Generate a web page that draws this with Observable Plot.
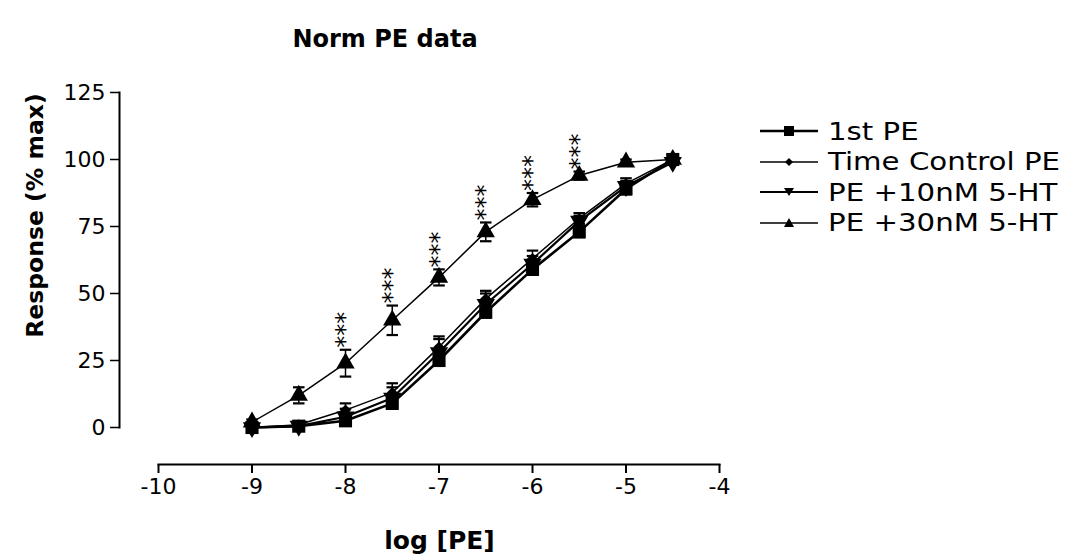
<!DOCTYPE html>
<html><head><meta charset="utf-8">
<script src="https://cdn.jsdelivr.net/npm/d3@7"></script>
<script src="https://cdn.jsdelivr.net/npm/@observablehq/plot@0.6"></script>
<style>
body{margin:0;background:#fff;font-family:"DejaVu Sans",sans-serif;color:#000;}
#wrap{position:relative;width:1067px;height:555px;overflow:hidden;}
#chart{position:absolute;left:0;top:0;}
#title{position:absolute;left:0;top:25px;width:770px;text-align:center;font-weight:bold;font-size:24px;}
#legend{position:absolute;left:760px;top:116px;}
.row{height:30.5px;display:flex;align-items:center;white-space:nowrap;}
.row svg{flex:none;}
.row span{font-size:25px;margin-left:10px;display:inline-block;transform:scaleX(1.17);transform-origin:left center;}
g[aria-label="y-axis tick label"], g[aria-label="x-axis tick label"]{font-size:22px;}
</style>
</head><body>
<div id="wrap">
  <div id="chart"></div>
  <div id="title">Norm PE data</div>
  <div id="legend"></div>
</div>
<script>
// ---- data ----
const logPE = [-9, -8.5, -8, -7.5, -7, -6.5, -6, -5.5, -5, -4.5];
const seriesNames = ["1st PE", "Time Control PE", "PE +10nM 5-HT", "PE +30nM 5-HT"];
const firstPE      = [0, 0.5, 2.5, 9, 25, 43, 59, 73, 89, 100];
const firstPEErr   = [1, 1, 1, 1.5, 1.5, 2, 2, 2, 2, 0.5];
const timeCtrl     = [0, 1, 6.5, 13, 30, 48, 63, 78, 91, 100];
const timeCtrlErr  = [0.5, 1, 2.5, 3.5, 4, 3, 3, 2, 2, 0.5];
const pe10         = [0, 0.5, 4, 11, 28, 46, 61, 77, 90, 99];
const pe10Err      = [0.5, 1, 3, 4, 5, 4, 3, 2, 2, 1];
const pe30         = [2, 12, 24, 40, 56, 73, 85, 94, 99, 100];
const pe30Err      = [1, 3, 5, 5.5, 3, 3.5, 2.5, 1.5, 1, 0.5];
const pe30Sig      = ["", "", "***", "***", "***", "***", "***", "***", "", ""];
const xTicks = [-10, -9, -8, -7, -6, -5, -4];
const yTicks = [0, 25, 50, 75, 100, 125];
const yLabel = ["Response (% max)"];
const xLabel = ["log [PE]"];

const values = [firstPE, timeCtrl, pe10, pe30];
const errs = [firstPEErr, timeCtrlErr, pe10Err, pe30Err];
const styles = [
  {symbol: "square", r: 7.4, rotate: 0, sw: 2.6},
  {symbol: "diamond2", r: 5, rotate: 0, sw: 1.5},
  {symbol: "triangle", r: 6.8, rotate: 180, sw: 2.2},
  {symbol: "triangle", r: 6.8, rotate: 0, sw: 1.5}
];

const rows = seriesNames.flatMap((s, i) => logPE.map((x, j) => ({
  series: s, x, y: values[i][j], lo: values[i][j] - errs[i][j], hi: values[i][j] + errs[i][j],
  sig: i === 3 ? pe30Sig[j] : ""
})));

const cap = {draw(ctx, size) { const w = Math.sqrt(size); ctx.moveTo(-w / 2, 0); ctx.lineTo(w / 2, 0); }};

const marks = [
  Plot.frame({anchor: "left", insetBottom: 37, strokeWidth: 2}),
  Plot.frame({anchor: "bottom", insetLeft: 39, strokeWidth: 2}),
  Plot.axisY({ticks: yTicks, tickSize: 9, tickPadding: 5, strokeWidth: 1.5, label: null}),
  Plot.text(yLabel, {frameAnchor: "left", textAnchor: "middle", rotate: -90, dx: -84, dy: -63, fontSize: 23.5, fontWeight: "bold", fill: "black"}),
  Plot.axisX({ticks: xTicks, tickSize: 9, tickPadding: 5, strokeWidth: 2, tickFormat: d => String(d), label: null}),
  Plot.text(xLabel, {frameAnchor: "bottom", textAnchor: "middle", lineAnchor: "bottom", dx: 20, dy: 84, fontSize: 25, fontWeight: "bold", fill: "black"}),
  Plot.ruleX(rows, {x: "x", y1: "lo", y2: "hi", stroke: "black", strokeWidth: 1.5}),
  Plot.dot(rows, {x: "x", y: "hi", symbol: cap, r: 6.5, stroke: "black", fill: "none", strokeWidth: 2.2}),
  Plot.dot(rows, {x: "x", y: "lo", symbol: cap, r: 6.5, stroke: "black", fill: "none", strokeWidth: 2.2})
];
seriesNames.forEach((s, i) => {
  const d = rows.filter(r => r.series === s);
  marks.push(Plot.line(d, {x: "x", y: "y", stroke: "black", strokeWidth: styles[i].sw}));
});
seriesNames.forEach((s, i) => {
  const d = rows.filter(r => r.series === s);
  marks.push(Plot.dot(d, {x: "x", y: "y", symbol: () => styles[i].symbol, r: styles[i].r, rotate: styles[i].rotate, fill: "black", stroke: "none"}));
});
marks.push(Plot.text(rows.filter(r => r.sig), {x: "x", y: "hi", text: "sig", rotate: -90, textAnchor: "start", dy: -2, fontSize: 24, fill: "black"}));

const plot = Plot.plot({
  width: 1067, height: 555,
  marginLeft: 119, marginRight: 348, marginTop: 92, marginBottom: 91,
  insetLeft: 39, insetBottom: 37,
  style: {fontFamily: "DejaVu Sans", fontSize: "22px", color: "black", background: "white"},
  x: {domain: [-10, -4]},
  y: {domain: [0, 125]},
  symbol: {type: "identity"},
  marks
});
document.getElementById("chart").appendChild(plot);

// legend
const legendSym = [
  '<rect x="24" y="7" width="10" height="10" fill="black"/>',
  '<path d="M29 8 L33 12 L29 16 L25 12Z" fill="black"/>',
  '<path d="M24 8 L34 8 L29 16Z" fill="black"/>',
  '<path d="M24 16 L34 16 L29 7Z" fill="black"/>'
];
const leg = document.getElementById("legend");
seriesNames.forEach((s, i) => {
  const row = document.createElement("div");
  row.className = "row";
  row.innerHTML = `<svg width="58" height="24"><line x1="0" x2="58" y1="12" y2="12" stroke="black" stroke-width="${styles[i].sw}"/>${legendSym[i]}</svg><span>${s}</span>`;
  leg.appendChild(row);
});
</script>
</body></html>
